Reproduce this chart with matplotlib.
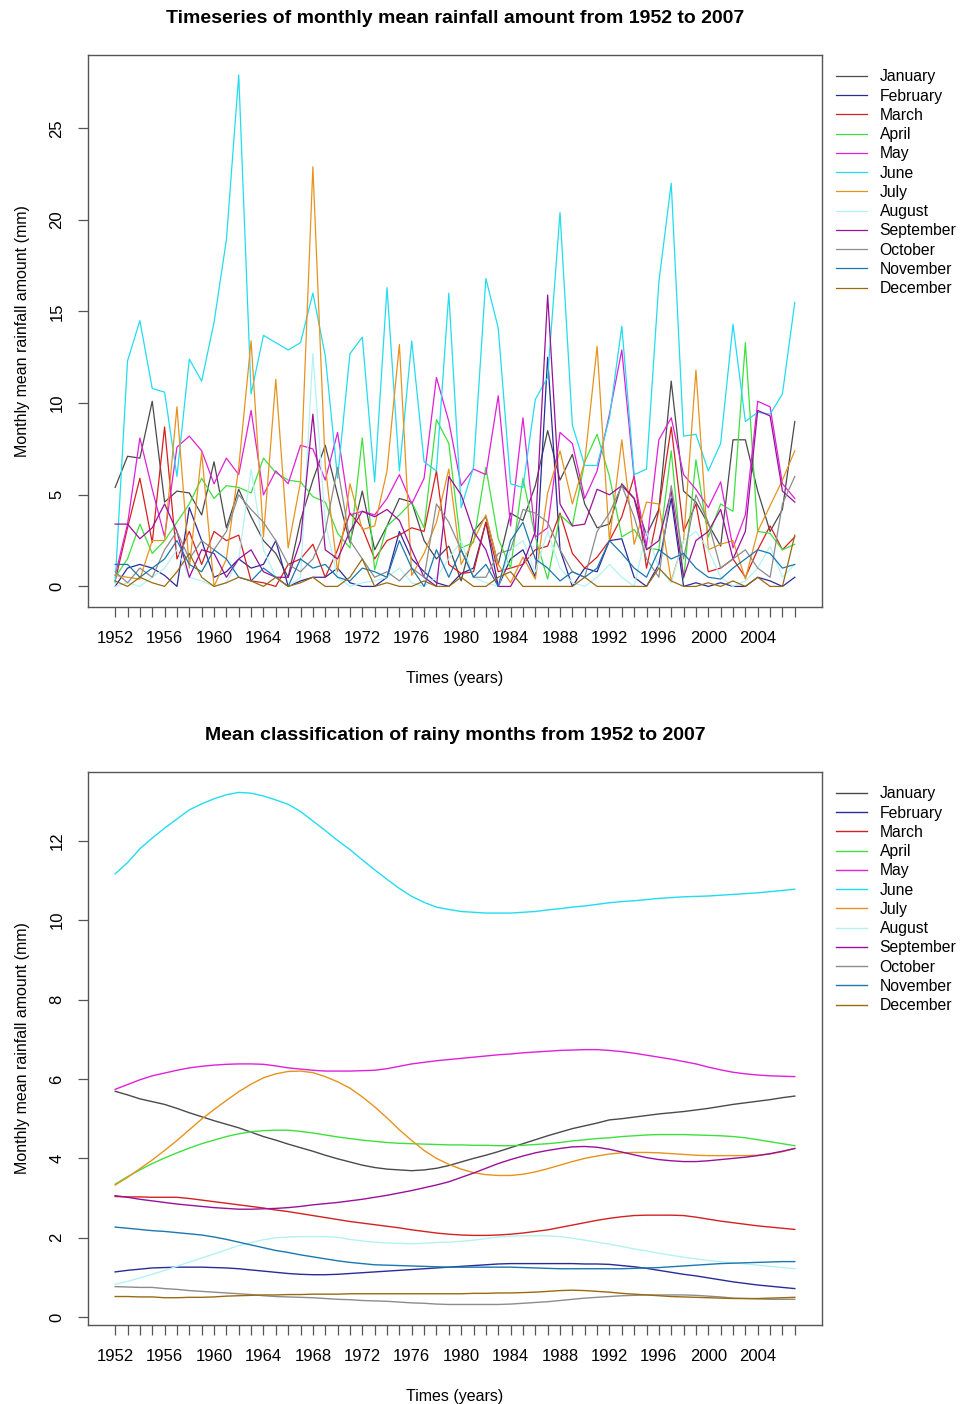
import numpy as np
import matplotlib
matplotlib.use("Agg")
import matplotlib.pyplot as plt
from matplotlib.ticker import MultipleLocator, FixedLocator

plt.rcParams['font.family'] = ['Liberation Sans', 'DejaVu Sans']

years = np.arange(1952, 2008)
months = ['January', 'February', 'March', 'April', 'May', 'June', 'July',
          'August', 'September', 'October', 'November', 'December']
colors = ['#4a4a4a', '#2a2a9a', '#d42020', '#3ee03e', '#e020d8', '#22dcf0',
          '#e8921e', '#b4f2f2', '#9a109a', '#8c8c8c', '#1a78b0', '#9a6a10']

# monthly mean rainfall per year (mm)
jan = [5.4, 7.1, 7.0, 10.1, 4.6, 5.2, 5.1, 3.9, 6.8, 3.2, 5.3, 3.8, 2.5, 1.8, 0.5, 3.6,
       5.8, 7.7, 5.0, 2.4, 5.2, 2.0, 3.3, 4.8, 4.6, 2.5, 1.5, 2.2, 0.3, 3.0, 3.8, 1.2,
       4.0, 3.6, 5.5, 8.5, 5.8, 7.2, 4.5, 3.2, 3.4, 5.6, 4.8, 2.8, 4.2, 11.2, 5.2, 4.6,
       3.4, 2.2, 8.0, 8.0, 5.2, 3.0, 4.2, 9.0]
feb = [0.0, 1.0, 1.2, 1.0, 0.6, 0.0, 4.3, 2.5, 0.5, 0.8, 1.5, 1.0, 1.2, 2.5, 0.0, 0.3,
       0.5, 0.5, 1.0, 0.2, 0.0, 0.0, 0.5, 3.0, 1.5, 0.8, 0.2, 0.0, 0.7, 1.0, 3.5, 0.0,
       1.5, 2.0, 0.5, 12.5, 2.0, 0.0, 1.0, 0.8, 2.5, 2.6, 0.5, 0.0, 1.2, 4.8, 0.0, 0.2,
       0.0, 0.2, 0.0, 0.0, 0.5, 0.3, 0.0, 0.5]
mar = [0.3, 3.2, 5.9, 2.4, 8.7, 1.5, 3.0, 1.2, 3.0, 2.5, 2.8, 0.3, 0.2, 0.0, 1.2, 1.5,
       2.3, 0.5, 2.0, 4.0, 3.2, 1.5, 2.5, 2.8, 3.2, 3.0, 6.3, 1.2, 0.7, 0.8, 3.5, 0.8,
       1.0, 1.2, 2.0, 2.2, 4.0, 1.8, 1.0, 1.6, 2.5, 3.8, 6.0, 1.0, 4.2, 8.7, 3.0, 4.5,
       0.8, 1.0, 1.5, 0.5, 2.0, 3.3, 2.0, 2.7]
apr = [0.5, 1.5, 3.4, 1.8, 2.5, 3.5, 4.5, 5.9, 4.8, 5.5, 5.4, 5.1, 7.0, 6.2, 5.8, 5.7,
       4.9, 4.6, 2.9, 2.1, 8.1, 0.9, 3.3, 3.9, 4.6, 3.2, 9.1, 7.8, 2.1, 2.4, 6.5, 2.6,
       1.0, 5.9, 2.7, 0.4, 3.9, 3.3, 6.8, 8.3, 6.0, 2.7, 3.1, 2.1, 2.0, 7.4, 0.4, 6.9,
       2.7, 4.5, 4.1, 13.3, 3.0, 2.9, 2.0, 2.3]
may = [0.6, 3.4, 8.1, 5.3, 2.7, 7.6, 8.2, 7.4, 5.6, 7.0, 6.1, 9.6, 5.0, 6.3, 5.6, 7.7,
       7.5, 5.8, 8.4, 3.9, 4.1, 3.9, 4.8, 6.1, 4.5, 5.9, 11.4, 9.0, 5.5, 6.4, 6.1, 10.4,
       3.3, 9.2, 2.7, 3.2, 8.4, 7.8, 4.8, 6.3, 9.4, 12.9, 5.9, 2.2, 8.0, 9.2, 6.1, 5.3,
       4.3, 5.7, 2.1, 3.9, 10.1, 9.8, 5.6, 4.8]
jun = [0.2, 12.3, 14.5, 10.8, 10.6, 6.0, 12.4, 11.2, 14.4, 18.9, 27.9, 10.5, 13.7, 13.3,
       12.9, 13.3, 16.0, 12.6, 5.9, 12.7, 13.6, 5.7, 16.3, 6.3, 13.4, 6.8, 6.3, 16.0,
       4.3, 6.5, 16.8, 14.1, 5.6, 5.4, 10.2, 11.4, 20.4, 8.8, 6.6, 6.6, 9.2, 14.2, 6.1,
       6.4, 16.6, 22.0, 8.2, 8.3, 6.3, 7.8, 14.3, 9.0, 9.5, 9.4, 10.5, 15.5]
jul = [0.6, 0.5, 0.4, 2.5, 2.5, 9.8, 1.0, 7.3, 0.0, 1.5, 6.5, 13.4, 2.7, 11.3, 2.1, 5.7,
       22.9, 6.6, 0.8, 5.6, 3.1, 3.3, 6.3, 13.2, 0.6, 1.8, 3.5, 6.4, 1.2, 2.5, 3.9, 1.2,
       0.2, 1.6, 0.4, 5.1, 7.4, 4.5, 6.8, 13.1, 2.5, 8.0, 2.3, 4.6, 4.5, 0.3, 2.5, 11.8,
       2.0, 2.3, 2.5, 0.4, 3.0, 4.4, 5.8, 7.4]
aug = [0.0, 0.2, 0.0, 0.5, 1.0, 2.0, 0.5, 0.3, 0.0, 0.2, 1.5, 6.4, 2.0, 0.5, 0.0, 0.5,
       12.7, 3.5, 0.5, 0.0, 0.2, 0.3, 0.5, 1.0, 0.2, 0.0, 0.5, 1.5, 2.5, 0.5, 0.2, 0.0,
       2.0, 2.5, 0.8, 3.0, 1.0, 0.2, 0.0, 0.5, 1.2, 0.5, 0.0, 3.0, 1.0, 0.2, 2.5, 3.0,
       2.0, 0.5, 0.0, 0.3, 1.0, 2.2, 0.5, 1.2]
sep = [3.4, 3.4, 2.6, 3.2, 4.5, 3.0, 0.5, 2.0, 1.8, 0.5, 1.5, 2.0, 0.8, 0.5, 0.5, 2.5,
       9.4, 2.0, 1.5, 3.0, 4.1, 3.8, 4.2, 3.6, 2.0, 0.5, 0.0, 6.0, 5.0, 3.0, 2.0, 0.0,
       0.0, 1.2, 3.0, 15.9, 4.5, 3.3, 3.4, 5.3, 5.0, 5.5, 4.8, 2.0, 2.5, 5.2, 0.5, 2.5,
       3.0, 4.2, 1.5, 3.0, 9.6, 9.3, 5.2, 4.6]
oct_ = [0.8, 0.2, 1.0, 0.5, 2.0, 3.0, 1.5, 2.5, 2.0, 3.0, 5.0, 4.2, 3.5, 2.5, 1.2, 0.8,
        1.5, 3.0, 6.5, 2.5, 1.5, 0.5, 0.8, 0.3, 1.0, 0.5, 4.5, 3.5, 2.0, 0.5, 0.5, 1.8,
        2.0, 4.2, 4.0, 3.5, 2.0, 0.8, 0.5, 3.0, 4.0, 5.5, 3.8, 1.5, 0.5, 5.5, 1.5, 5.0,
        3.5, 1.0, 1.5, 2.0, 1.0, 0.5, 4.5, 6.0]
nov = [1.2, 1.2, 0.5, 1.0, 1.5, 2.5, 1.2, 0.8, 2.0, 1.5, 0.5, 0.3, 1.0, 0.5, 0.0, 1.5,
       1.0, 1.2, 0.5, 0.3, 1.0, 0.8, 0.5, 2.5, 1.0, 0.0, 2.0, 0.5, 2.0, 0.5, 1.2, 0.0,
       2.5, 3.5, 1.5, 1.0, 0.3, 0.8, 0.5, 1.0, 2.5, 1.8, 1.0, 0.5, 2.0, 1.5, 1.8, 1.0,
       0.5, 0.4, 1.0, 1.5, 2.0, 1.8, 1.0, 1.2]
dec = [0.3, 0.0, 0.5, 0.2, 0.0, 0.8, 1.8, 0.5, 0.0, 0.2, 0.5, 0.3, 0.0, 0.5, 0.0, 0.2,
       0.5, 0.0, 0.0, 0.5, 1.5, 0.0, 0.2, 0.0, 0.0, 0.3, 0.0, 0.0, 0.5, 0.0, 0.0, 0.5,
       0.8, 0.0, 0.0, 0.0, 0.0, 0.0, 0.5, 0.0, 0.0, 0.0, 0.0, 0.0, 1.0, 0.3, 0.0, 0.0,
       0.2, 0.0, 0.3, 0.0, 0.5, 0.0, 0.0, 2.8]
raw = [jan, feb, mar, apr, may, jun, jul, aug, sep, oct_, nov, dec]

# smoothed mean per month (mm)
jan_s = [5.69, 5.6, 5.5, 5.43, 5.36, 5.26, 5.15, 5.05, 4.95, 4.86, 4.77, 4.66, 4.55, 4.46,
         4.36, 4.27, 4.18, 4.08, 3.99, 3.91, 3.83, 3.77, 3.73, 3.71, 3.69, 3.71, 3.75, 3.82,
         3.91, 4.0, 4.08, 4.17, 4.27, 4.37, 4.47, 4.57, 4.66, 4.75, 4.82, 4.89, 4.97, 5.0,
         5.04, 5.08, 5.12, 5.15, 5.18, 5.22, 5.26, 5.31, 5.36, 5.4, 5.44, 5.48, 5.53, 5.57]
feb_s = [1.14, 1.18, 1.21, 1.24, 1.25, 1.26, 1.26, 1.26, 1.25, 1.24, 1.22, 1.19, 1.16, 1.13,
         1.1, 1.08, 1.07, 1.07, 1.08, 1.1, 1.12, 1.14, 1.16, 1.18, 1.2, 1.22, 1.24, 1.26,
         1.28, 1.3, 1.32, 1.34, 1.35, 1.35, 1.35, 1.35, 1.35, 1.35, 1.34, 1.34, 1.33, 1.3,
         1.27, 1.23, 1.18, 1.13, 1.08, 1.04, 0.99, 0.94, 0.89, 0.85, 0.81, 0.78, 0.75, 0.72]
mar_s = [3.04, 3.03, 3.03, 3.02, 3.02, 3.02, 2.99, 2.95, 2.91, 2.87, 2.83, 2.79, 2.75, 2.7,
         2.66, 2.61, 2.56, 2.51, 2.46, 2.41, 2.37, 2.33, 2.29, 2.25, 2.2, 2.16, 2.12, 2.09,
         2.07, 2.06, 2.06, 2.07, 2.09, 2.12, 2.16, 2.2, 2.26, 2.32, 2.38, 2.44, 2.49, 2.53,
         2.56, 2.57, 2.57, 2.57, 2.56, 2.52, 2.47, 2.42, 2.38, 2.34, 2.3, 2.27, 2.24, 2.21]
apr_s = [3.35, 3.54, 3.71, 3.87, 4.01, 4.14, 4.26, 4.37, 4.46, 4.55, 4.62, 4.67, 4.7, 4.71,
         4.71, 4.68, 4.64, 4.59, 4.54, 4.5, 4.46, 4.43, 4.4, 4.38, 4.37, 4.36, 4.35, 4.34,
         4.34, 4.33, 4.33, 4.32, 4.32, 4.33, 4.35, 4.37, 4.4, 4.44, 4.47, 4.5, 4.52, 4.55,
         4.57, 4.59, 4.6, 4.6, 4.6, 4.59, 4.58, 4.57, 4.55, 4.52, 4.47, 4.42, 4.37, 4.32]
may_s = [5.74, 5.86, 5.98, 6.08, 6.15, 6.22, 6.28, 6.32, 6.35, 6.37, 6.38, 6.38, 6.37, 6.33,
         6.28, 6.25, 6.22, 6.2, 6.2, 6.2, 6.21, 6.22, 6.26, 6.32, 6.38, 6.42, 6.46, 6.49,
         6.52, 6.55, 6.58, 6.61, 6.63, 6.66, 6.68, 6.7, 6.72, 6.73, 6.74, 6.74, 6.72, 6.69,
         6.65, 6.6, 6.55, 6.5, 6.44, 6.38, 6.3, 6.23, 6.17, 6.13, 6.1, 6.08, 6.07, 6.06]
jun_s = [11.17, 11.45, 11.8, 12.07, 12.32, 12.55, 12.78, 12.93, 13.06, 13.16, 13.22, 13.2,
         13.13, 13.03, 12.92, 12.74, 12.5, 12.26, 12.01, 11.78, 11.52, 11.27, 11.03, 10.8,
         10.6, 10.45, 10.33, 10.27, 10.22, 10.2, 10.18, 10.18, 10.18, 10.2, 10.22, 10.26,
         10.29, 10.33, 10.36, 10.4, 10.44, 10.47, 10.49, 10.52, 10.55, 10.57, 10.59, 10.6,
         10.61, 10.63, 10.65, 10.67, 10.69, 10.72, 10.75, 10.78]
jul_s = [3.33, 3.52, 3.74, 3.96, 4.2, 4.45, 4.72, 4.99, 5.23, 5.46, 5.68, 5.87, 6.03, 6.13,
         6.19, 6.2, 6.16, 6.06, 5.93, 5.77, 5.55, 5.3, 5.02, 4.72, 4.45, 4.2, 4.0, 3.85,
         3.73, 3.64, 3.59, 3.57, 3.57, 3.6, 3.66, 3.74, 3.83, 3.92, 4.0, 4.06, 4.11, 4.14,
         4.15, 4.15, 4.14, 4.12, 4.1, 4.08, 4.07, 4.07, 4.07, 4.07, 4.08, 4.11, 4.17, 4.25]
aug_s = [0.83, 0.9, 0.99, 1.08, 1.18, 1.28, 1.39, 1.49, 1.59, 1.7, 1.8, 1.88, 1.95, 2.0,
         2.02, 2.03, 2.03, 2.03, 2.01, 1.96, 1.92, 1.89, 1.87, 1.86, 1.85, 1.86, 1.88, 1.89,
         1.91, 1.94, 1.98, 2.02, 2.04, 2.05, 2.05, 2.05, 2.03, 1.99, 1.94, 1.89, 1.84, 1.78,
         1.72, 1.67, 1.61, 1.56, 1.51, 1.47, 1.43, 1.4, 1.37, 1.34, 1.31, 1.28, 1.25, 1.22]
sep_s = [3.06, 3.02, 2.97, 2.93, 2.89, 2.85, 2.82, 2.79, 2.76, 2.74, 2.72, 2.72, 2.73, 2.74,
         2.76, 2.79, 2.83, 2.86, 2.89, 2.93, 2.97, 3.02, 3.07, 3.13, 3.19, 3.26, 3.33, 3.41,
         3.52, 3.63, 3.75, 3.87, 3.97, 4.06, 4.14, 4.2, 4.25, 4.29, 4.3, 4.28, 4.23, 4.16,
         4.09, 4.02, 3.97, 3.94, 3.92, 3.92, 3.94, 3.97, 4.0, 4.03, 4.07, 4.12, 4.18, 4.25]
oct_s = [0.77, 0.76, 0.75, 0.75, 0.72, 0.7, 0.67, 0.65, 0.63, 0.61, 0.59, 0.57, 0.54, 0.52,
         0.51, 0.5, 0.49, 0.47, 0.45, 0.44, 0.42, 0.41, 0.4, 0.38, 0.36, 0.35, 0.33, 0.32,
         0.32, 0.32, 0.32, 0.32, 0.33, 0.35, 0.37, 0.39, 0.42, 0.45, 0.48, 0.5, 0.52, 0.54,
         0.55, 0.56, 0.56, 0.56, 0.56, 0.55, 0.53, 0.51, 0.48, 0.47, 0.46, 0.45, 0.45, 0.45]
nov_s = [2.27, 2.24, 2.21, 2.18, 2.16, 2.13, 2.1, 2.07, 2.02, 1.96, 1.89, 1.82, 1.75, 1.68,
         1.63, 1.57, 1.52, 1.47, 1.42, 1.38, 1.35, 1.32, 1.31, 1.3, 1.29, 1.28, 1.27, 1.26,
         1.26, 1.26, 1.26, 1.26, 1.26, 1.25, 1.24, 1.23, 1.22, 1.22, 1.22, 1.22, 1.22, 1.22,
         1.23, 1.24, 1.25, 1.27, 1.29, 1.31, 1.33, 1.35, 1.36, 1.37, 1.38, 1.39, 1.4, 1.4]
dec_s = [0.52, 0.52, 0.51, 0.51, 0.49, 0.49, 0.5, 0.5, 0.51, 0.53, 0.54, 0.55, 0.56, 0.56,
         0.57, 0.57, 0.58, 0.58, 0.58, 0.59, 0.59, 0.59, 0.59, 0.59, 0.59, 0.59, 0.59, 0.59,
         0.59, 0.6, 0.6, 0.61, 0.61, 0.62, 0.63, 0.65, 0.67, 0.68, 0.67, 0.65, 0.63, 0.6,
         0.58, 0.56, 0.54, 0.52, 0.51, 0.5, 0.49, 0.48, 0.47, 0.47, 0.47, 0.48, 0.49, 0.5]
smooth = [jan_s, feb_s, mar_s, apr_s, may_s, jun_s, jul_s, aug_s, sep_s, oct_s, nov_s, dec_s]

fig = plt.figure(figsize=(9.7, 14.04), dpi=100)
ax1 = fig.add_axes([0.0907, 0.5677, 0.7567, 0.3932])
ax2 = fig.add_axes([0.0907, 0.0563, 0.7567, 0.3939])


def r_style(ax, series, title, ystep, lw):
    for vals, c, m in zip(series, colors, months):
        ax.plot(years, vals, color=c, lw=lw, label=m)
    lo = min(min(v) for v in series)
    hi = max(max(v) for v in series)
    pad = (hi - lo) * 0.04
    ax.set_ylim(lo - pad, hi + pad)
    span = years[-1] - years[0]
    ax.set_xlim(years[0] - span * 0.04, years[-1] + span * 0.04)
    ax.set_xticks(np.arange(1952, 2008, 4))
    ax.xaxis.set_minor_locator(FixedLocator(years))
    ax.yaxis.set_major_locator(MultipleLocator(ystep))
    ax.tick_params(which='both', direction='out', length=7, width=0.9,
                   color='#555555', labelsize=12, pad=10)
    ax.tick_params(axis='x', which='minor', labelbottom=False)
    for t in ax.get_yticklabels():
        t.set_rotation(90)
        t.set_va('center')
    for s in ax.spines.values():
        s.set_color('#555555')
        s.set_linewidth(1.0)
    ax.set_xlabel('Times (years)', fontsize=11.5, labelpad=18)
    ax.set_ylabel('Monthly mean rainfall amount (mm)', fontsize=11.5, labelpad=14)
    ax.set_title(title, fontsize=14, fontweight='bold', pad=23)
    ax.legend(loc='upper left', bbox_to_anchor=(1.01, 0.985), frameon=False,
              fontsize=11.3, handlelength=2.0, handletextpad=0.8,
              labelspacing=0.27, borderaxespad=0.0)


r_style(ax1, raw, 'Timeseries of monthly mean rainfall amount from 1952 to 2007', 5, 0.9)
r_style(ax2, smooth, 'Mean classification of rainy months from 1952 to 2007', 2, 1.0)
ax1.set_yticks([0, 5, 10, 15, 20, 25])
ax1.set_ylim(-1.12, 29.0)

fig.savefig('out.png', dpi=100)
